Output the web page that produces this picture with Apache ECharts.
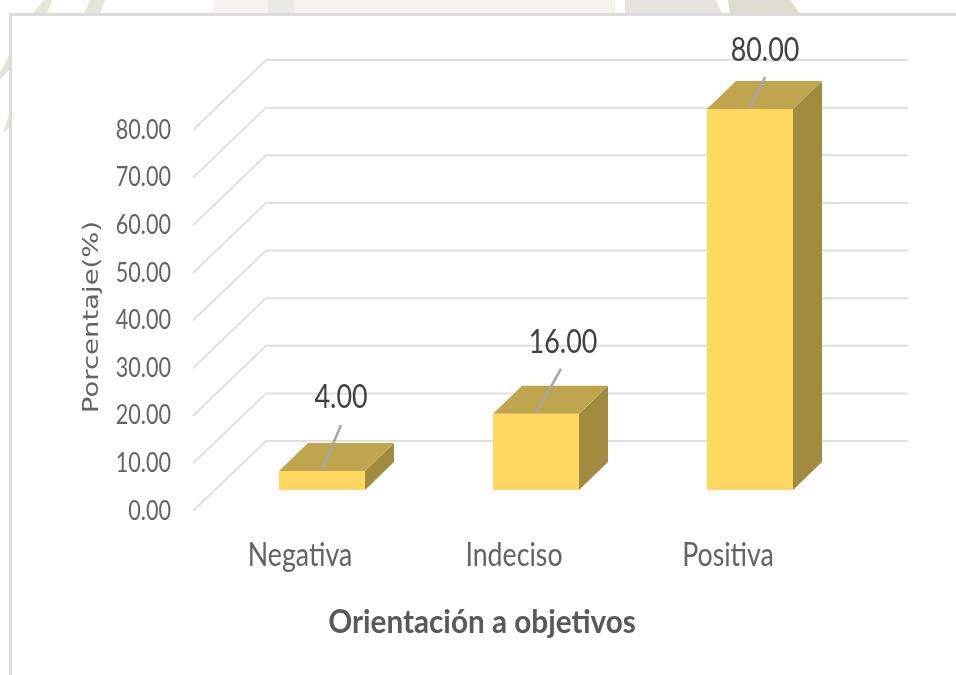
<!DOCTYPE html>
<html><head><meta charset="utf-8">
<style>html,body{margin:0;padding:0;background:#fff}#c{width:956px;height:675px}</style>
<script src="https://cdn.jsdelivr.net/npm/echarts@6/dist/echarts.min.js"></script>
</head><body><div id="c"></div>
<script>
var categories = ['Negativa', 'Indeciso', 'Positiva'];
var values = [4.00, 16.00, 80.00];
var yTicks = [0, 10, 20, 30, 40, 50, 60, 70, 80];
var xTitle = 'Orientación a objetivos';
var yTitle = 'Porcentaje(%)';

// projection of the pseudo-3D box, in pixels
var WALL = [73, -70], NEAR = [22, -21], DEPTH = [29, -28], BAR_W = 86;
var LABEL_SHIFT = [[19, -73], [27, -71], [15, -58]];
var LEADER_END = [[19, -46], [25, -45], [15, -32]];
var FONT = 'Lato,sans-serif';

function renderWall(params, api) {
  var v = api.value(0);
  var s = api.coord([0, v]), size = api.size([1, 0]);
  var x0 = s[0] - size[0] / 2, y0 = s[1];
  var right = x0 + size[0] * categories.length + WALL[0];
  return { type: 'group', children: [
    { type: 'polyline', silent: true,
      shape: { points: [[x0, y0], [x0 + WALL[0], y0 + WALL[1]], [right, y0 + WALL[1]]] },
      style: { stroke: '#e0e0e0', lineWidth: 2, fill: null } },
    { type: 'text', x: x0 - 22, y: y0, scaleX: 0.8, silent: true,
      style: { x: 0, y: 0, text: v.toFixed(2), fill: '#636363', font: '27px ' + FONT, align: 'right', verticalAlign: 'middle' } }
  ] };
}
function renderBar(params, api) {
  var i = api.value(0), v = api.value(1);
  var base = api.coord([i, 0]), top = api.coord([i, v]);
  var xl = base[0] - BAR_W / 2 + NEAR[0], xr = xl + BAR_W;
  var yb = base[1] + NEAR[1], yt = top[1] + NEAR[1];
  var dx = DEPTH[0], dy = DEPTH[1];
  var xc = xl + BAR_W / 2;
  return { type: 'group', children: [
    { type: 'polygon', shape: { points: [[xr, yt], [xr + dx, yt + dy], [xr + dx, yb + dy], [xr, yb]] }, style: { fill: '#A28B3F' } },
    { type: 'polygon', shape: { points: [[xl, yt], [xl + dx, yt + dy], [xr + dx, yt + dy], [xr, yt]] }, style: { fill: '#BFA54D' } },
    { type: 'rect', shape: { x: xl, y: yt, width: BAR_W, height: yb - yt }, style: { fill: '#FFD761' } },
    { type: 'line', shape: { x1: xc, y1: yt - 1, x2: xc + LEADER_END[i][0], y2: yt + LEADER_END[i][1] }, style: { stroke: '#A6A6A6', lineWidth: 2.5 } },
    { type: 'text', x: xc + LABEL_SHIFT[i][0], y: yt + LABEL_SHIFT[i][1], scaleX: 0.84,
      style: { x: 0, y: 0, text: v.toFixed(2), fill: '#404040', font: '32px ' + FONT, align: 'center', verticalAlign: 'middle' } },
    { type: 'text', x: base[0], y: base[1] + 44, scaleX: 0.81,
      style: { x: 0, y: 0, text: categories[i], fill: '#636363', font: '33px ' + FONT, align: 'center', verticalAlign: 'middle' } }
  ] };
}
var olive = '#e4e5d9', pale = '#f4f3ee', sand = '#e5e3dc';
var chart = echarts.init(document.getElementById('c'), null, { renderer: 'canvas' });
chart.setOption({
  animation: false,
  graphic: [
    { type: 'polygon', z: -10, shape: { points: [[32, 14], [44, 0], [52, 0], [47, 14]] }, style: { fill: olive } },
    { type: 'polygon', z: -10, shape: { points: [[84, 14], [90, 0], [105, 0], [100, 14]] }, style: { fill: olive } },
    { type: 'polygon', z: -10, shape: { points: [[212, 14], [215, 0], [615, 0], [615, 14]] }, style: { fill: pale } },
    { type: 'polygon', z: -10, shape: { points: [[268, 14], [268, 0], [294, 0], [294, 14]] }, style: { fill: '#eaeae4' } },
    { type: 'polygon', z: -10, shape: { points: [[625, 14], [625, 0], [716, 0], [722, 14]] }, style: { fill: sand } },
    { type: 'polygon', z: -10, shape: { points: [[730, 14], [728, 0], [790, 0], [800, 14]] }, style: { fill: '#dcdccf' } },
    { type: 'polygon', z: -10, shape: { points: [[0, 72], [9, 55], [9, 70], [0, 80]] }, style: { fill: olive } },
    { type: 'polygon', z: -10, shape: { points: [[3, 133], [9, 115], [9, 128]] }, style: { fill: olive } },
    { type: 'rect', z: -9, shape: { x: 10.5, y: 14.5, width: 960, height: 680 }, style: { fill: '#fff', stroke: '#dcdcdc', lineWidth: 3 } },
    { type: 'text', z: 5, x: 482, y: 622, scaleX: 0.9,
      style: { x: 0, y: 0, text: xTitle, fill: '#595959', font: 'bold 33px ' + FONT, align: 'center', verticalAlign: 'middle' } },
    { type: 'text', z: 5, x: 92.5, y: 317, rotation: Math.PI / 2, scaleX: 1.25,
      style: { x: 0, y: 0, text: yTitle, fill: '#636363', font: '22px "DejaVu Sans",sans-serif', align: 'center', verticalAlign: 'middle' } }
  ],
  grid: { left: 193, top: 130, width: 642, height: 381 },
  xAxis: { type: 'category', data: categories, boundaryGap: true,
    axisLine: { show: false }, axisTick: { show: false }, splitLine: { show: false }, axisLabel: { show: false } },
  yAxis: { type: 'value', min: 0, max: 80, interval: 10,
    axisLine: { show: false }, axisTick: { show: false }, splitLine: { show: false }, axisLabel: { show: false } },
  series: [
    { type: 'custom', renderItem: renderWall, data: yTicks.map(function (t) { return [t]; }), encode: { y: 0 }, clip: false, z: 1, silent: true },
    { type: 'custom', renderItem: renderBar, data: values.map(function (v, i) { return [i, v]; }), encode: { x: 0, y: 1 }, clip: false, z: 2 }
  ]
});
</script></body></html>
